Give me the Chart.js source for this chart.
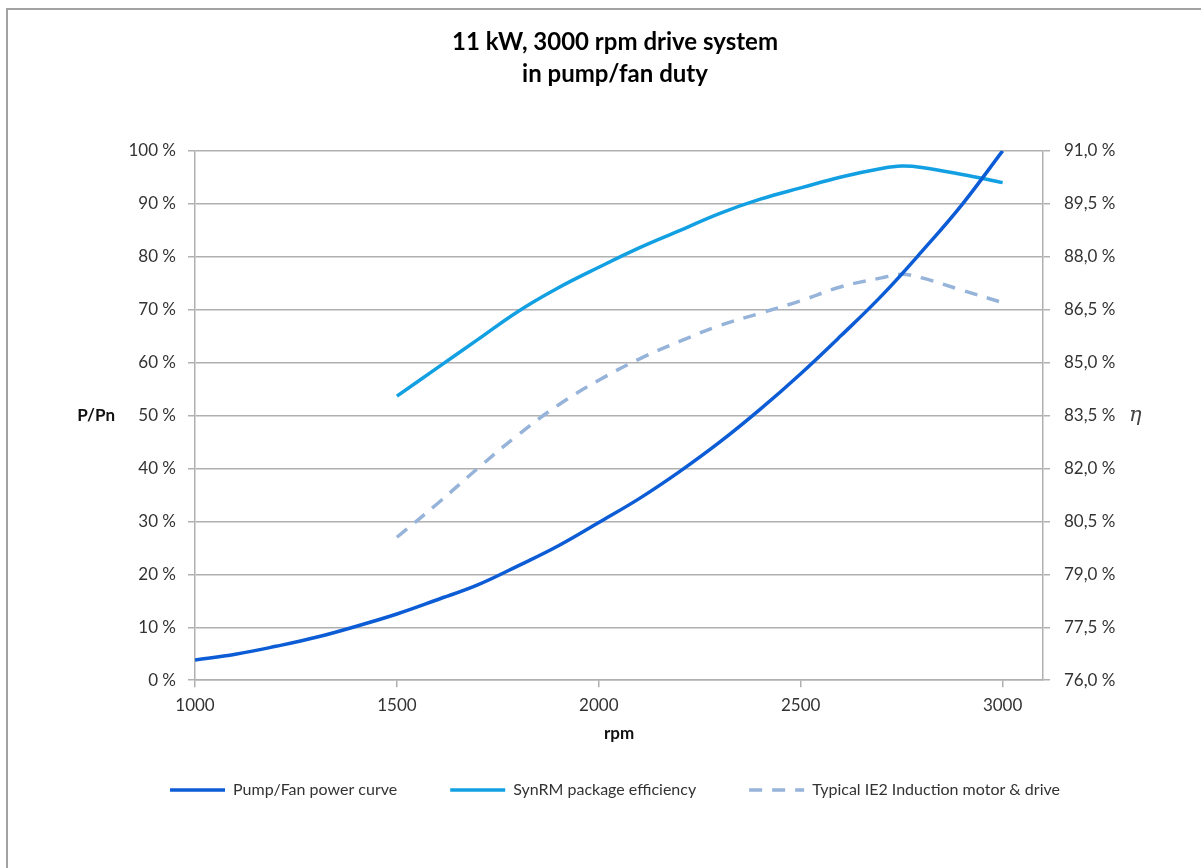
<!DOCTYPE html>
<html>
<head>
<meta charset="utf-8">
<title>11 kW, 3000 rpm drive system in pump/fan duty</title>
<script src="https://cdn.jsdelivr.net/npm/chart.js@4/dist/chart.umd.min.js"></script>
<style>
    html, body { margin: 0; padding: 0; background: #fff; overflow: hidden; }
    #wrap { position: absolute; left: 0; top: 0; width: 1201px; height: 868px; }
    #frame { position: absolute; left: 6px; top: 8px; width: 1210px; height: 880px; border: 2px solid #a3a3a3; }
</style>
</head>
<body>
<div id="frame"></div>
<div id="wrap"><canvas id="grafic" width="1201" height="868"></canvas></div>
<script>
// Data
const rpmPump = [1000, 1100, 1200, 1300, 1400, 1500, 1600, 1700, 1800, 1900, 2000,
                 2100, 2200, 2300, 2400, 2500, 2600, 2700, 2800, 2900, 3000];
const pumpPower = [3.8, 4.9, 6.4, 8.1, 10.2, 12.5, 15.2, 18.0, 21.6, 25.4, 29.8,
                   34.3, 39.4, 45.0, 51.2, 57.9, 65.1, 72.6, 81.0, 89.9, 100];

const rpmEff = [1500, 1600, 1700, 1800, 1900, 2000, 2100, 2200, 2300, 2400,
                2500, 2600, 2700, 2750, 2800, 2900, 3000];
const synrmEff = [84.05, 84.85, 85.65, 86.45, 87.12, 87.7, 88.25, 88.74, 89.23, 89.63,
                  89.95, 90.26, 90.5, 90.57, 90.53, 90.33, 90.1];
const ie2Eff = [80.05, 81.0, 82.0, 82.95, 83.8, 84.5, 85.1, 85.6, 86.05, 86.4,
                86.75, 87.15, 87.4, 87.5, 87.4, 87.05, 86.7];

const seriesNames = ['Pump/Fan power curve', 'SynRM package efficiency', 'Typical IE2 Induction motor & drive'];
const xTicks = [1000, 1500, 2000, 2500, 3000];

const font = 'Lato, "Open Sans", sans-serif';
const toXY = (xs, ys) => xs.map((x, i) => ({ x: x, y: ys[i] }));

// Horizontal side labels (P/Pn on the left, eta on the right)
const sideLabels = {
    id: 'sideLabels',
    afterDraw(chart) {
        const ctx = chart.ctx;
        const yL = chart.scales.y;
        const yR = chart.scales.y2;
        const midY = yL.getPixelForValue(50);
        ctx.save();
        ctx.textBaseline = 'middle';
        ctx.fillStyle = '#111';
        ctx.font = 'bold 17px ' + font;
        ctx.textAlign = 'right';
        ctx.fillText('P/Pn', chart.chartArea.left - 80, midY);
        ctx.font = 'italic 21px "DejaVu Serif", serif';
        ctx.fillStyle = '#444';
        ctx.textAlign = 'left';
        ctx.fillText('η', yR.right + 9, midY);
        ctx.restore();
    }
};

document.addEventListener('DOMContentLoaded', () => {
    const ctx = document.getElementById('grafic');
    new Chart(ctx, {
        type: 'line',
        data: {
            datasets: [{
                label: seriesNames[0],
                data: toXY(rpmPump, pumpPower),
                yAxisID: 'y',
                borderColor: '#0c5cd6',
                backgroundColor: '#0c5cd6',
                borderWidth: 3.5,
                pointRadius: 0,
                tension: 0.4
            }, {
                label: seriesNames[1],
                data: toXY(rpmEff, synrmEff),
                yAxisID: 'y2',
                borderColor: '#12a0e3',
                backgroundColor: '#12a0e3',
                borderWidth: 3.5,
                pointRadius: 0,
                tension: 0.4
            }, {
                label: seriesNames[2],
                data: toXY(rpmEff, ie2Eff),
                yAxisID: 'y2',
                borderColor: '#96b3d9',
                backgroundColor: '#96b3d9',
                borderWidth: 3.5,
                borderDash: [13, 10],
                pointRadius: 0,
                tension: 0.4
            }]
        },
        options: {
            responsive: false,
            animation: false,
            devicePixelRatio: 1,
            layout: { padding: { left: 110, right: 81, top: 0, bottom: 60 } },
            plugins: {
                title: {
                    display: true,
                    text: ['11 kW, 3000 rpm drive system', 'in pump/fan duty'],
                    color: '#000',
                    font: { family: font, size: 24, weight: 'bold', lineHeight: 1.33 },
                    padding: { top: 26, bottom: 61 }
                },
                legend: {
                    position: 'bottom',
                    labels: {
                        usePointStyle: true,
                        pointStyle: 'line',
                        pointStyleWidth: 55,
                        boxHeight: 10,
                        padding: 53,
                        color: '#333',
                        font: { family: font, size: 16 },
                        generateLabels: (chart) => {
                            const items = Chart.defaults.plugins.legend.labels.generateLabels(chart);
                            items.forEach((it) => {
                                const ds = chart.data.datasets[it.datasetIndex];
                                it.lineDash = ds.borderDash || [];
                                it.lineWidth = ds.borderWidth;
                                it.strokeStyle = ds.borderColor;
                            });
                            return items;
                        }
                    }
                },
                tooltip: { enabled: false }
            },
            scales: {
                x: {
                    type: 'linear',
                    min: 1000,
                    max: 3100,
                    afterBuildTicks: (scale) => { scale.ticks = xTicks.map(v => ({ value: v })); },
                    grid: { drawOnChartArea: false, drawTicks: true, tickLength: 7, color: '#b0b0b0', lineWidth: 1.5 },
                    border: { color: '#b0b0b0', width: 1.5 },
                    ticks: {
                        color: '#333', padding: 8,
                        font: { family: font, size: 17 },
                        callback: (v) => String(v)
                    },
                    title: {
                        display: true, text: 'rpm', color: '#111',
                        font: { family: font, size: 17, weight: 'bold' },
                        padding: { top: 0, bottom: -15 }
                    }
                },
                y: {
                    position: 'left',
                    min: 0,
                    max: 100,
                    afterFit: (scale) => { scale.width = 85; },
                    ticks: {
                        stepSize: 10, color: '#333', padding: 12,
                        font: { family: font, size: 17 },
                        callback: (v) => v + ' %'
                    },
                    grid: { color: '#b0b0b0', lineWidth: 1.5, tickLength: 7 },
                    border: { color: '#b0b0b0', width: 1.5 }
                },
                y2: {
                    position: 'right',
                    min: 76,
                    max: 91,
                    afterFit: (scale) => { scale.width = 77; },
                    ticks: {
                        stepSize: 1.5, color: '#333', padding: 14,
                        font: { family: font, size: 17 },
                        callback: (v) => v.toFixed(1).replace('.', ',') + ' %'
                    },
                    grid: { drawOnChartArea: false, color: '#b0b0b0', lineWidth: 1.5, tickLength: 7 },
                    border: { color: '#b0b0b0', width: 1.5 }
                }
            }
        },
        plugins: [sideLabels]
    });
});
</script>
</body>
</html>
